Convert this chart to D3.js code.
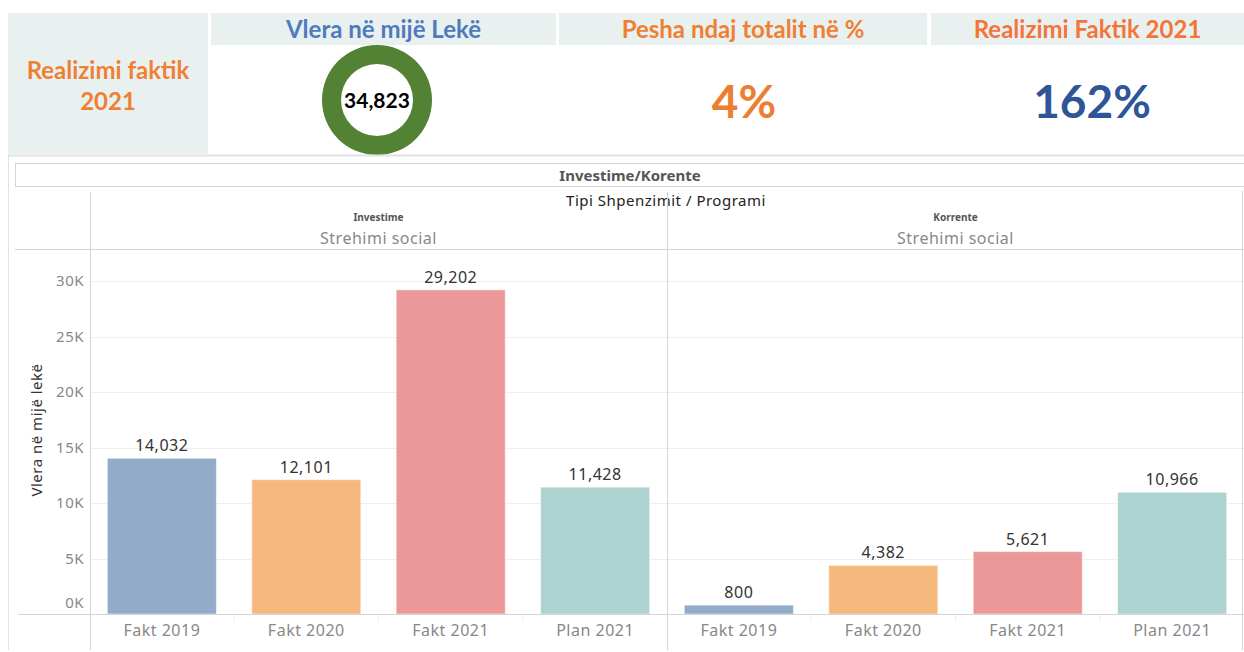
<!DOCTYPE html>
<html>
<head>
<meta charset="utf-8">
<script src="https://cdn.jsdelivr.net/npm/d3@7"></script>
<style>
  body { margin: 0; background: #fff; }
  svg { display: block; }
</style>
</head>
<body>
<div id="chart"></div>
<script>
const categories = ["Fakt 2019", "Fakt 2020", "Fakt 2021", "Plan 2021"];
const panels = ["Investime", "Korrente"];
const investime = [14032, 12101, 29202, 11428];
const korrente = [800, 4382, 5621, 10966];
const yTicks = [0, 5000, 10000, 15000, 20000, 25000, 30000];
const barColors = ["#92abc9", "#f5b97d", "#ec9899", "#acd3cf"];
const kpiTotal = 34823;
const kpiShare = "4%";
const kpiReal = "162%";

const W = 1244, H = 652;
const KPI_FONT = "Lato, 'Open Sans', sans-serif";
const CH_FONT = "'Noto Sans', 'Open Sans', sans-serif";

const svg = d3.select("#chart").append("svg")
  .attr("width", W)
  .attr("height", H);

// ---- KPI strip ----
const head = svg.append("g");
head.append("rect").attr("x", 8).attr("y", 13).attr("width", 200).attr("height", 141).attr("fill", "#e8f1f0");
const headers = [
  { x: 211, w: 345, text: "Vlera në mijë Lekë", color: "#4f7bbd" },
  { x: 559, w: 368, text: "Pesha ndaj totalit në %", color: "#f07f32" },
  { x: 931, w: 313, text: "Realizimi Faktik 2021", color: "#f5743a" }
];
headers.forEach(h => {
  head.append("rect").attr("x", h.x).attr("y", 13).attr("width", h.w).attr("height", 32).attr("fill", "#e8f1f0");
  head.append("text")
    .attr("x", h.x + h.w / 2).attr("y", 38)
    .attr("text-anchor", "middle")
    .style("font", `bold 24px ${KPI_FONT}`)
    .attr("fill", h.color)
    .text(h.text);
});

head.append("text")
  .attr("x", 108).attr("y", 79)
  .attr("text-anchor", "middle")
  .style("font", `bold 24px ${KPI_FONT}`)
  .attr("fill", "#f07f32")
  .text("Realizimi faktik");
head.append("text")
  .attr("x", 108).attr("y", 110)
  .attr("text-anchor", "middle")
  .style("font", `bold 24px ${KPI_FONT}`)
  .attr("fill", "#f07f32")
  .text("2021");

// donut around the total
const arc = d3.arc().innerRadius(36).outerRadius(55);
head.append("path")
  .attr("transform", "translate(377,100)")
  .attr("d", arc({ startAngle: 0, endAngle: 2 * Math.PI }))
  .attr("fill", "#548235");
head.append("text")
  .attr("x", 377).attr("y", 108)
  .attr("text-anchor", "middle")
  .style("font", `bold 21px ${KPI_FONT}`)
  .attr("fill", "#000")
  .text(d3.format(",")(kpiTotal));

head.append("text")
  .attr("x", 744).attr("y", 118)
  .attr("text-anchor", "middle")
  .style("font", `bold 46px ${KPI_FONT}`)
  .attr("fill", "#ed7d31")
  .text(kpiShare);
head.append("text")
  .attr("x", 1092).attr("y", 118)
  .attr("text-anchor", "middle")
  .style("font", `bold 46px ${KPI_FONT}`)
  .attr("fill", "#2f5597")
  .text(kpiReal);

// ---- Tableau style chart ----
const g = svg.append("g");
const line = "#d4d4d4";
const ls = "0.5px";

g.append("line").attr("x1", 8).attr("x2", W).attr("y1", 155.5).attr("y2", 155.5).attr("stroke", "#e2e2e2").attr("stroke-width", 2);
g.append("line").attr("x1", 8.5).attr("x2", 8.5).attr("y1", 155).attr("y2", 650).attr("stroke", "#e2e2e2");
g.append("rect").attr("x", 15.5).attr("y", 163.5).attr("width", W - 15).attr("height", 23)
  .attr("fill", "none").attr("stroke", line);
g.append("text")
  .attr("x", 630).attr("y", 181)
  .attr("text-anchor", "middle")
  .style("font", `bold 15px ${CH_FONT}`)
  .attr("fill", "#555")
  .text("Investime/Korente");
g.append("text")
  .attr("x", 666).attr("y", 206)
  .attr("text-anchor", "middle")
  .style("font", `15px ${CH_FONT}`)
  .style("letter-spacing", ls)
  .attr("fill", "#222")
  .text("Tipi Shpenzimit / Programi");

const x0 = d3.scaleBand().domain(panels).range([90, W]);
const x1 = d3.scaleBand().domain(categories).range([0, x0.bandwidth()])
  .paddingInner(0.245).paddingOuter(0.12);
const y = d3.scaleLinear().domain([0, d3.max(yTicks)]).range([614, 281]);

// gridlines
g.append("g")
  .selectAll("line")
  .data(yTicks.slice(1))
  .join("line")
    .attr("x1", 90).attr("x2", W)
    .attr("y1", d => Math.round(y(d)) + 0.5).attr("y2", d => Math.round(y(d)) + 0.5)
    .attr("stroke", "#efefef");

// header bottom line and panel dividers
g.append("line").attr("x1", 15).attr("x2", W).attr("y1", 249.5).attr("y2", 249.5).attr("stroke", line);
g.append("line").attr("x1", 90.5).attr("x2", 90.5).attr("y1", 192).attr("y2", 650).attr("stroke", line);
g.append("line").attr("x1", 667.5).attr("x2", 667.5).attr("y1", 192).attr("y2", 650).attr("stroke", line);
g.append("line").attr("x1", W - 1.5).attr("x2", W - 1.5).attr("y1", 191).attr("y2", 650).attr("stroke", line);

// y axis
const yAxis = g.append("g")
  .attr("transform", "translate(84,0)")
  .call(d3.axisLeft(y).tickValues(yTicks).tickSize(0).tickPadding(0)
    .tickFormat(d => d3.format("d")(d / 1000) + "K"));
yAxis.select(".domain").remove();
yAxis.selectAll("text")
  .style("font", `15px ${CH_FONT}`)
  .style("letter-spacing", ls)
  .attr("fill", "#888")
  .attr("dy", d => d === 0 ? "-0.45em" : "0.32em");

g.append("text")
  .attr("transform", "translate(42,430) rotate(-90)")
  .attr("text-anchor", "middle")
  .style("font", `15px ${CH_FONT}`)
  .style("letter-spacing", ls)
  .attr("fill", "#333")
  .text("Vlera në mijë lekë");

const series = { Investime: investime, Korrente: korrente };

panels.forEach(p => {
  const cx = x0(p) + x0.bandwidth() / 2;
  g.append("text")
    .attr("x", cx).attr("y", 221)
    .attr("text-anchor", "middle")
    .style("font", `bold 10px ${CH_FONT}`)
    .attr("fill", "#555")
    .text(p);
  g.append("text")
    .attr("x", cx).attr("y", 244)
    .attr("text-anchor", "middle")
    .style("font", `16px ${CH_FONT}`)
    .style("letter-spacing", ls)
    .attr("fill", "#888")
    .text("Strehimi social");

  const pg = g.append("g").attr("transform", `translate(${x0(p)},0)`);
  const rows = categories.map((c, i) => ({ cat: c, value: series[p][i], i }));

  pg.selectAll("rect")
    .data(rows)
    .join("rect")
      .attr("x", d => x1(d.cat))
      .attr("y", d => y(d.value))
      .attr("width", x1.bandwidth())
      .attr("height", d => y(0) - y(d.value))
      .attr("fill", d => barColors[d.i])
      .attr("stroke", "#fff")
      .attr("stroke-opacity", 0.5);

  pg.selectAll("text.val")
    .data(rows)
    .join("text")
      .attr("class", "val")
      .attr("x", d => x1(d.cat) + x1.bandwidth() / 2)
      .attr("y", d => y(d.value) - 7)
      .attr("text-anchor", "middle")
      .style("font", `16px ${CH_FONT}`)
      .style("letter-spacing", ls)
      .attr("fill", "#333")
      .text(d => d3.format(",")(d.value));

  const xAxis = pg.append("g")
    .attr("transform", "translate(0,614)")
    .call(d3.axisBottom(x1).tickSize(0).tickPadding(11));
  xAxis.select(".domain").remove();
  xAxis.selectAll("text")
    .style("font", `16px ${CH_FONT}`)
    .style("letter-spacing", ls)
    .attr("fill", "#888");

  // faint separators between categories
  pg.selectAll("line.sep")
    .data(categories.slice(1))
    .join("line")
      .attr("class", "sep")
      .attr("x1", d => x1(d) - x1.step() * x1.paddingInner() / 2)
      .attr("x2", d => x1(d) - x1.step() * x1.paddingInner() / 2)
      .attr("y1", 615).attr("y2", 622)
      .attr("stroke", "#eee");
});

// x axis baseline
g.append("line").attr("x1", 18).attr("x2", W).attr("y1", 614.5).attr("y2", 614.5).attr("stroke", line);
</script>
</body>
</html>
